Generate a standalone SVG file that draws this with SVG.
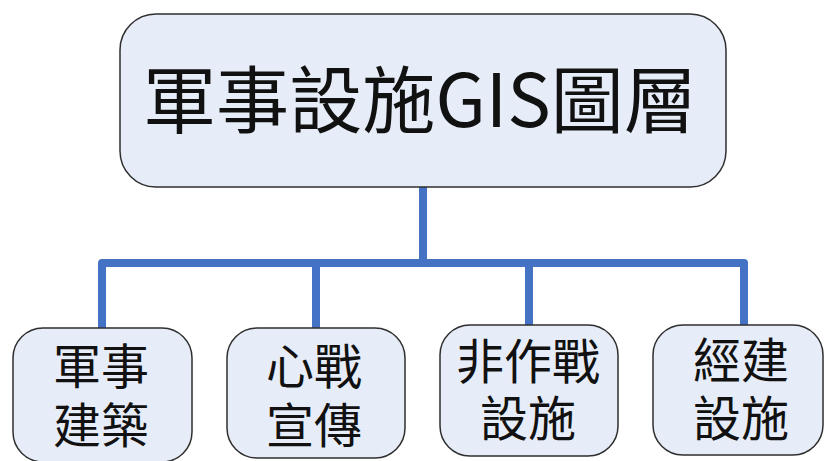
<svg xmlns="http://www.w3.org/2000/svg" width="824" height="461" viewBox="0 0 824 461">
<style>
.box{fill:#e7edf8;stroke:#2e2e2e;stroke-width:1.5}
.t{font-family:"Noto Sans CJK TC","Noto Sans CJK SC",sans-serif;fill:#111;text-anchor:middle}
.big{font-size:73px}
.small{font-size:48px}
.conn{fill:none;stroke:#4472c4;stroke-width:8;stroke-linejoin:round;stroke-linecap:round}
</style>
<rect width="824" height="461" fill="#ffffff"/>
<g id="connectors">
<path class="conn" d="M423,187 V263"/>
<path class="conn" d="M102,328 V263 H744 V325"/>
<path class="conn" d="M316,263 V328"/>
<path class="conn" d="M529,263 V325"/>
</g>
<g id="root">
<rect class="box" x="120" y="14" width="606" height="173" rx="36"/>
<text class="t big" x="420" y="127" textLength="554" lengthAdjust="spacingAndGlyphs">軍事設施GIS圖層</text>
</g>
<g id="n1">
<rect class="box" x="13" y="328" width="179" height="134" rx="30"/>
<text class="t small"><tspan x="101" y="384">軍事</tspan><tspan x="101" y="443">建築</tspan></text>
</g>
<g id="n2">
<rect class="box" x="227" y="328" width="178" height="130" rx="30"/>
<text class="t small"><tspan x="314" y="384">心戰</tspan><tspan x="314" y="443">宣傳</tspan></text>
</g>
<g id="n3">
<rect class="box" x="440" y="325" width="178" height="131" rx="30"/>
<text class="t small"><tspan x="528" y="379">非作戰</tspan><tspan x="528" y="436">設施</tspan></text>
</g>
<g id="n4">
<rect class="box" x="653" y="325" width="170" height="130" rx="30"/>
<text class="t small"><tspan x="741" y="378">經建</tspan><tspan x="741" y="436">設施</tspan></text>
</g>
</svg>
